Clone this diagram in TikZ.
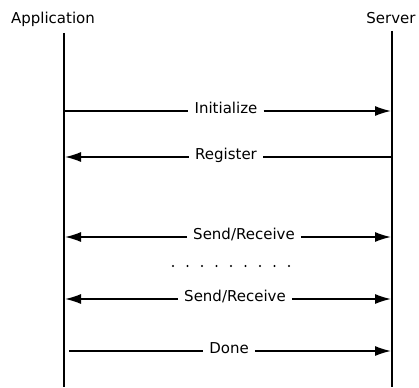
\documentclass[tikz,border=0pt]{standalone}
\usepackage{fontspec}
\setmainfont{DejaVu Sans}
\usetikzlibrary{arrows.meta}
\begin{document}
\begin{tikzpicture}[x=1pt,y=-1pt,
  lifeline/.style={line width=2pt},
  msg/.style={line width=1.5pt},
  tip/.style={-{Latex[length=16pt,width=10pt]}},
  party/.style={font=\fontsize{15}{18}\selectfont, inner sep=0pt, anchor=base},
  msglabel/.style={font=\fontsize{15}{18}\selectfont, inner ysep=0pt, inner xsep=6pt, anchor=mid}
]
\useasboundingbox (0,0) rectangle (419,387);

% participants and their lifelines
\node[party] (app) at (53,24) {Application};
\node[party] (srv) at (391,24) {Server};
\coordinate (appTop) at (64,33);
\coordinate (appBot) at (64,387);
\coordinate (srvTop) at (392,31);
\coordinate (srvBot) at (392,387);
\draw[lifeline] (appTop) -- (appBot);
\draw[lifeline] (srvTop) -- (srvBot);

% Initialize: application -> server
\coordinate (iniA) at (64,111);
\coordinate (iniS) at (391,111);
\node[msglabel] (ini) at (226,111) {Initialize};
\draw[msg] (iniA) -- (iniA -| ini.west);
\draw[msg,tip] (iniS -| ini.east) -- (iniS);

% Register: server -> application
\coordinate (regA) at (65,157);
\coordinate (regS) at (392,157);
\node[msglabel] (reg) at (226,157) {Register};
\draw[msg] (regS) -- (regS -| reg.east);
\draw[msg,tip] (regA -| reg.west) -- (regA);

% Send/Receive: both directions
\coordinate (sr1A) at (65,237);
\coordinate (sr1S) at (391,237);
\node[msglabel] (sr1) at (244,237) {Send/Receive};
\draw[msg,tip] (sr1A -| sr1.west) -- (sr1A);
\draw[msg,tip] (sr1S -| sr1.east) -- (sr1S);

% repeated exchanges
\foreach \i in {0,...,8}
  \fill (173+14.5*\i,266) circle (1.2pt);

\coordinate (sr2A) at (65,299);
\coordinate (sr2S) at (391,299);
\node[msglabel] (sr2) at (235,299) {Send/Receive};
\draw[msg,tip] (sr2A -| sr2.west) -- (sr2A);
\draw[msg,tip] (sr2S -| sr2.east) -- (sr2S);

% Done: application -> server
\coordinate (donA) at (69,351);
\coordinate (donS) at (391,351);
\node[msglabel] (don) at (229,351) {Done};
\draw[msg] (donA) -- (donA -| don.west);
\draw[msg,tip] (donS -| don.east) -- (donS);
\end{tikzpicture}
\end{document}
